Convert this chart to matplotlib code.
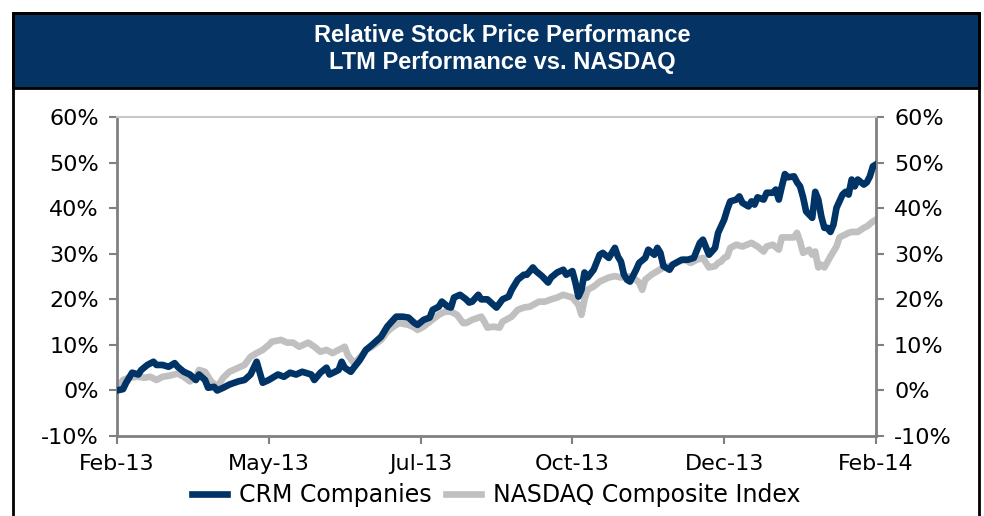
import matplotlib.pyplot as plt
from matplotlib.patches import Rectangle
from matplotlib.ticker import FuncFormatter

# trading-day index (0 = Feb-13, 250 = Feb-14) and % change
crm_day = [0, 2, 3, 5, 7, 8, 10, 12, 13, 15, 17, 19, 20, 22, 24, 26, 27, 29, 30, 32,
           33, 35, 37, 40, 42, 44, 46, 48, 50, 53, 55, 57, 59, 61, 64, 65, 67, 69, 70, 73,
           74, 75, 77, 78, 80, 82, 84, 87, 89, 91, 92, 94, 96, 98, 99, 101, 103, 104, 106, 107,
           109, 110, 111, 113, 115, 116, 117, 119, 120, 122, 124, 125, 127, 129, 130, 132, 134, 135, 137, 138,
           140, 142, 143, 145, 147, 148, 150, 151, 152, 153, 154, 155, 157, 159, 160, 162, 164, 165, 166, 167,
           168, 169, 171, 172, 174, 175, 177, 178, 179, 180, 182, 183, 186, 188, 190, 192, 193, 195, 197, 198,
           200, 201, 202, 204, 205, 206, 208, 209, 210, 211, 213, 214, 216, 217, 218, 219, 220, 221, 223, 224,
           225, 226, 227, 228, 229, 230, 231, 232, 233, 234, 235, 236, 237, 239, 240, 241, 242, 243, 244, 246,
           247, 248, 249, 250]
crm_pct = [0.0, 0.3, 1.7, 3.9, 3.5, 4.5, 5.6, 6.3, 5.6, 5.6, 5.2, 6.0, 5.2, 4.1, 3.5, 2.3, 3.5, 2.3, 0.6, 0.8,
           0.0, 0.6, 1.3, 2.0, 2.3, 3.5, 6.3, 1.7, 2.3, 3.5, 3.0, 3.9, 3.5, 4.1, 3.5, 2.3, 3.9, 5.0, 3.5, 4.5,
           6.3, 5.0, 4.1, 5.0, 6.7, 8.9, 10.0, 11.8, 14.0, 15.5, 16.2, 16.2, 16.0, 14.8, 14.4, 15.5, 16.0, 17.7, 18.4, 19.5,
           18.4, 18.2, 20.4, 21.0, 20.0, 19.3, 19.5, 21.0, 20.0, 20.0, 18.8, 18.2, 20.0, 20.6, 22.1, 24.3, 25.4, 25.4, 27.0, 26.2,
           25.1, 23.7, 24.8, 25.9, 26.5, 25.4, 26.2, 23.7, 20.6, 22.1, 25.9, 24.8, 26.5, 29.8, 30.2, 29.1, 31.3, 29.4, 28.3, 25.4,
           24.3, 23.9, 26.5, 28.0, 29.1, 30.9, 29.8, 31.3, 30.2, 27.3, 26.5, 27.6, 28.7, 28.7, 29.1, 32.4, 33.1, 29.8, 31.3, 34.6,
           37.5, 39.7, 41.5, 41.9, 42.6, 41.2, 40.4, 41.5, 40.8, 42.4, 41.9, 43.4, 43.4, 44.1, 41.9, 44.8, 47.5, 46.8, 47.0, 45.7,
           44.8, 42.4, 39.3, 38.6, 37.9, 43.6, 41.9, 38.2, 35.7, 35.7, 34.8, 36.4, 40.1, 43.0, 43.6, 43.0, 46.3, 44.8, 46.3, 45.2,
           45.7, 47.0, 49.2, 49.6]

nasdaq_day = [0, 2, 4, 7, 9, 11, 13, 15, 17, 20, 22, 24, 26, 27, 29, 31, 33, 35, 37, 40,
              42, 44, 46, 48, 50, 51, 54, 56, 58, 60, 63, 65, 67, 69, 71, 73, 75, 76, 78, 80,
              82, 84, 87, 89, 91, 93, 96, 98, 99, 101, 103, 106, 108, 110, 112, 114, 115, 117, 120, 121,
              122, 124, 126, 127, 130, 132, 134, 136, 139, 141, 143, 145, 147, 149, 150, 152, 153, 154, 155, 157,
              159, 162, 164, 166, 168, 170, 172, 173, 174, 176, 178, 180, 182, 185, 187, 189, 191, 193, 195, 197,
              198, 199, 200, 201, 202, 204, 206, 209, 211, 213, 214, 216, 218, 219, 221, 223, 224, 225, 226, 228,
              229, 230, 231, 232, 233, 235, 237, 238, 241, 242, 244, 246, 247, 249, 250]
nasdaq_pct = [0.5, 2.3, 2.8, 3.0, 2.8, 3.0, 2.3, 3.0, 3.2, 3.7, 3.0, 2.0, 2.8, 4.5, 4.1, 2.0, 0.8, 2.8, 4.1, 5.0,
              5.6, 7.4, 8.2, 8.9, 10.0, 10.7, 11.1, 10.5, 10.5, 9.6, 10.5, 9.6, 8.5, 8.9, 8.2, 8.9, 9.6, 7.8, 6.0, 7.2,
              8.9, 9.6, 11.1, 12.9, 14.0, 14.8, 14.4, 13.8, 13.3, 14.0, 15.1, 16.6, 17.3, 17.3, 16.6, 14.8, 14.8, 15.5, 16.2, 15.1,
              13.8, 14.0, 13.8, 15.1, 16.2, 17.7, 18.2, 18.4, 19.5, 19.5, 20.0, 20.4, 21.0, 20.6, 20.4, 18.8, 16.6, 20.0, 22.1, 22.8,
              23.9, 24.8, 25.1, 24.8, 25.1, 24.8, 23.7, 22.1, 24.3, 25.4, 26.2, 27.0, 27.3, 28.3, 28.7, 28.0, 28.7, 29.1, 27.0, 27.3,
              28.0, 28.3, 29.1, 29.4, 31.3, 32.0, 31.6, 32.4, 31.6, 30.5, 31.6, 32.0, 30.9, 33.6, 33.6, 33.6, 34.6, 32.7, 30.2, 30.9,
              29.8, 30.5, 27.0, 27.6, 27.0, 29.4, 31.6, 33.6, 34.6, 34.8, 34.8, 35.7, 36.0, 37.1, 37.5]

tick_days = [0, 50, 100, 150, 200, 250]
tick_labels = ["Feb-13", "May-13", "Jul-13", "Oct-13", "Dec-13", "Feb-14"]

navy = "#003366"
gray = "#c0c0c0"
axis_gray = "#808080"

fig = plt.figure(figsize=(9.84, 5.16), dpi=100)
ax = fig.add_axes([0.1189, 0.155, 0.7713, 0.618])

ax.plot(nasdaq_day, nasdaq_pct, color=gray, lw=4.8, solid_joinstyle="round", label="NASDAQ Composite Index", zorder=2)
ax.plot(crm_day, crm_pct, color=navy, lw=4.8, solid_joinstyle="round", label="CRM Companies", zorder=3)

ax.set_xlim(0, 250)
ax.set_ylim(-10, 60)
ax.set_xticks(tick_days)
ax.set_xticklabels(tick_labels)
ax.set_yticks(range(-10, 61, 10))
ax.yaxis.set_major_formatter(FuncFormatter(lambda v, p: f"{v:.0f}%"))
ax.tick_params(axis="both", direction="out", length=6, width=1.5, color=axis_gray,
               labelsize=16, pad=7)
ax.tick_params(axis="y", right=True, labelright=True)

for s in ["left", "right", "bottom"]:
    ax.spines[s].set_color(axis_gray)
    ax.spines[s].set_linewidth(2)
ax.spines["top"].set_color("#c8c8c8")
ax.spines["top"].set_linewidth(1.5)

# legend: CRM first
h, l = ax.get_legend_handles_labels()
fig.legend(h[::-1], l[::-1], loc="center", bbox_to_anchor=(0.5045, 0.041), ncol=2,
           frameon=False, fontsize=17, handlelength=1.5, handletextpad=0.5,
           columnspacing=0.6)

# title banner and outer frame
fig.patches.append(Rectangle((13 / 984, 1 - 88 / 516), 966 / 984, 75 / 516,
                             transform=fig.transFigure, facecolor="#043364",
                             edgecolor="black", lw=2))
fig.patches.append(Rectangle((13 / 984, -0.1), 966 / 984, 1.1 - 13 / 516,
                             transform=fig.transFigure, facecolor="none",
                             edgecolor="black", lw=2, clip_on=False))
fig.text(0.51, 1 - 35 / 516, "Relative Stock Price Performance", color="white",
         fontsize=17, fontweight="bold", family="Liberation Sans", ha="center", va="center")
fig.text(0.51, 1 - 63 / 516, "LTM Performance vs. NASDAQ", color="white",
         fontsize=17, fontweight="bold", family="Liberation Sans", ha="center", va="center")

fig.savefig("out.png", dpi=100)
